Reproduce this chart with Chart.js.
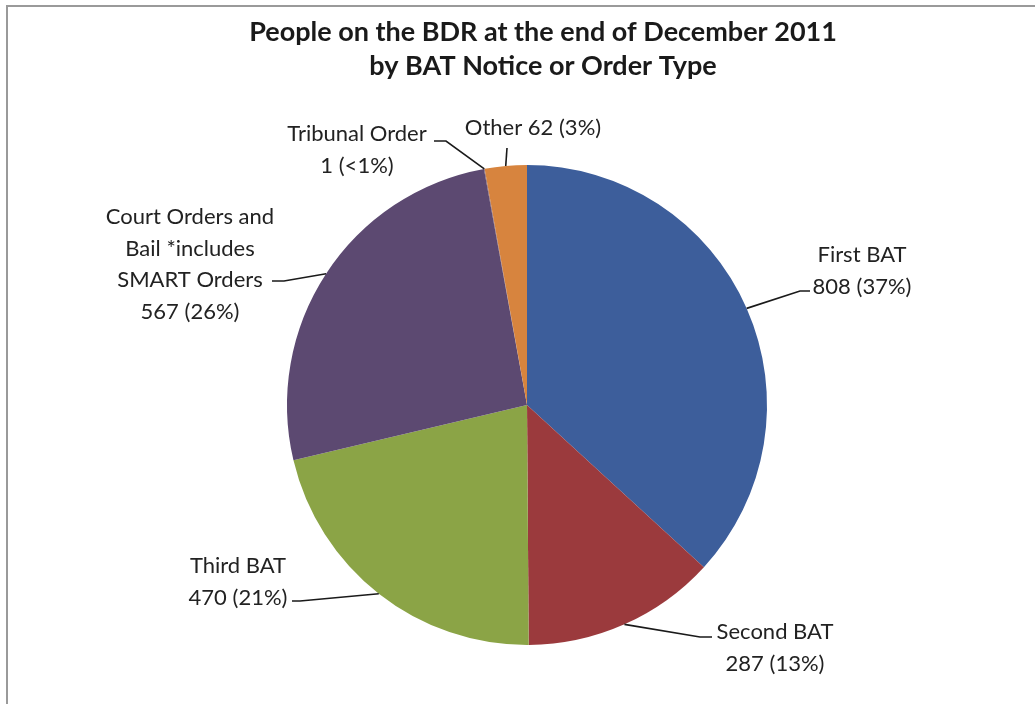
<!DOCTYPE html>
<html>
<head>
<meta charset="utf-8">
<script src="https://cdn.jsdelivr.net/npm/chart.js@4"></script>
<style>
    html, body { margin: 0; padding: 0; background: #ffffff; }
    #wrap { width: 1035px; height: 704px; }
</style>
</head>
<body>
<div id="wrap"><canvas id="bdrChart" width="1035" height="704"></canvas></div>
<script>
// People on the BDR, end of December 2011, by notice / order type
const categories = ['First BAT', 'Second BAT', 'Third BAT',
    'Court Orders and Bail *includes SMART Orders', 'Tribunal Order', 'Other'];
const counts = [808, 287, 470, 567, 1, 62];
const percentLabels = ['37%', '13%', '21%', '26%', '<1%', '3%'];

const COLORS = ['#3d5e9b', '#9b3a3d', '#8ba446', '#5c4971', '#7a5b6e', '#d7843e'];

const TITLE = ['People on the BDR at the end of December 2011', 'by BAT Notice or Order Type'];
const FONT = 'Lato, "Open Sans", sans-serif';

// Label text blocks and leader line routing (x, y of centre of text; elbow points)
const labelLayout = [
    { lines: ['First BAT', '808 (37%)'], x: 862, y: 255, elbow: [[800, 291], [810, 291]] },
    { lines: ['Second BAT', '287 (13%)'], x: 775, y: 632, elbow: [[700, 637], [712, 637]] },
    { lines: ['Third BAT', '470 (21%)'], x: 238, y: 566, elbow: [[300, 601], [292, 601]] },
    { lines: ['Court Orders and', 'Bail *includes', 'SMART Orders', '567 (26%)'], x: 190, y: 217,
      elbow: [[284, 281], [272, 281]] },
    { lines: ['Tribunal Order', '1 (<1%)'], x: 357, y: 134, elbow: [[446, 141], [434, 141]] },
    { lines: ['Other 62 (3%)'], x: 533, y: 128, elbow: [[507, 148]] }
];

// Frame and title
const framePlugin = {
    id: 'frame',
    beforeDraw(chart) {
        const ctx = chart.ctx;
        ctx.save();
        ctx.fillStyle = '#ffffff';
        ctx.fillRect(0, 0, chart.width, chart.height);
        ctx.strokeStyle = '#9a9a9a';
        ctx.lineWidth = 2;
        ctx.beginPath();
        ctx.moveTo(7, chart.height);
        ctx.lineTo(7, 6);
        ctx.lineTo(chart.width, 6);
        ctx.stroke();
        ctx.fillStyle = '#1a1a1a';
        ctx.font = 'bold 27px ' + FONT;
        ctx.textAlign = 'center';
        ctx.textBaseline = 'middle';
        ctx.fillText(TITLE[0], 543, 32);
        ctx.fillText(TITLE[1], 543, 66);
        ctx.restore();
    }
};

// Slice labels with leader lines from the middle of each arc edge
const leaderLabels = {
    id: 'leaderLabels',
    afterDatasetsDraw(chart) {
        const ctx = chart.ctx;
        const arcs = chart.getDatasetMeta(0).data;
        ctx.save();
        ctx.font = '22px ' + FONT;
        ctx.textAlign = 'center';
        ctx.textBaseline = 'middle';
        arcs.forEach((arc, i) => {
            const cfg = labelLayout[i];
            const mid = (arc.startAngle + arc.endAngle) / 2;
            const ax = arc.x + Math.cos(mid) * arc.outerRadius;
            const ay = arc.y + Math.sin(mid) * arc.outerRadius;
            ctx.strokeStyle = '#1a1a1a';
            ctx.lineWidth = 1.6;
            ctx.beginPath();
            ctx.moveTo(ax, ay);
            cfg.elbow.forEach(p => ctx.lineTo(p[0], p[1]));
            ctx.stroke();
            ctx.fillStyle = '#222222';
            cfg.lines.forEach((t, k) => ctx.fillText(t, cfg.x, cfg.y + k * 31.5));
        });
        ctx.restore();
    }
};

new Chart(document.getElementById('bdrChart'), {
    type: 'pie',
    data: {
        labels: categories,
        datasets: [{
            data: counts,
            backgroundColor: COLORS,
            borderWidth: 0
        }]
    },
    options: {
        responsive: false,
        animation: false,
        layout: { padding: { top: 165, bottom: 59, left: 287, right: 268 } },
        plugins: {
            legend: { display: false },
            tooltip: { enabled: false },
            title: { display: false }
        }
    },
    plugins: [framePlugin, leaderLabels]
});
</script>
</body>
</html>
